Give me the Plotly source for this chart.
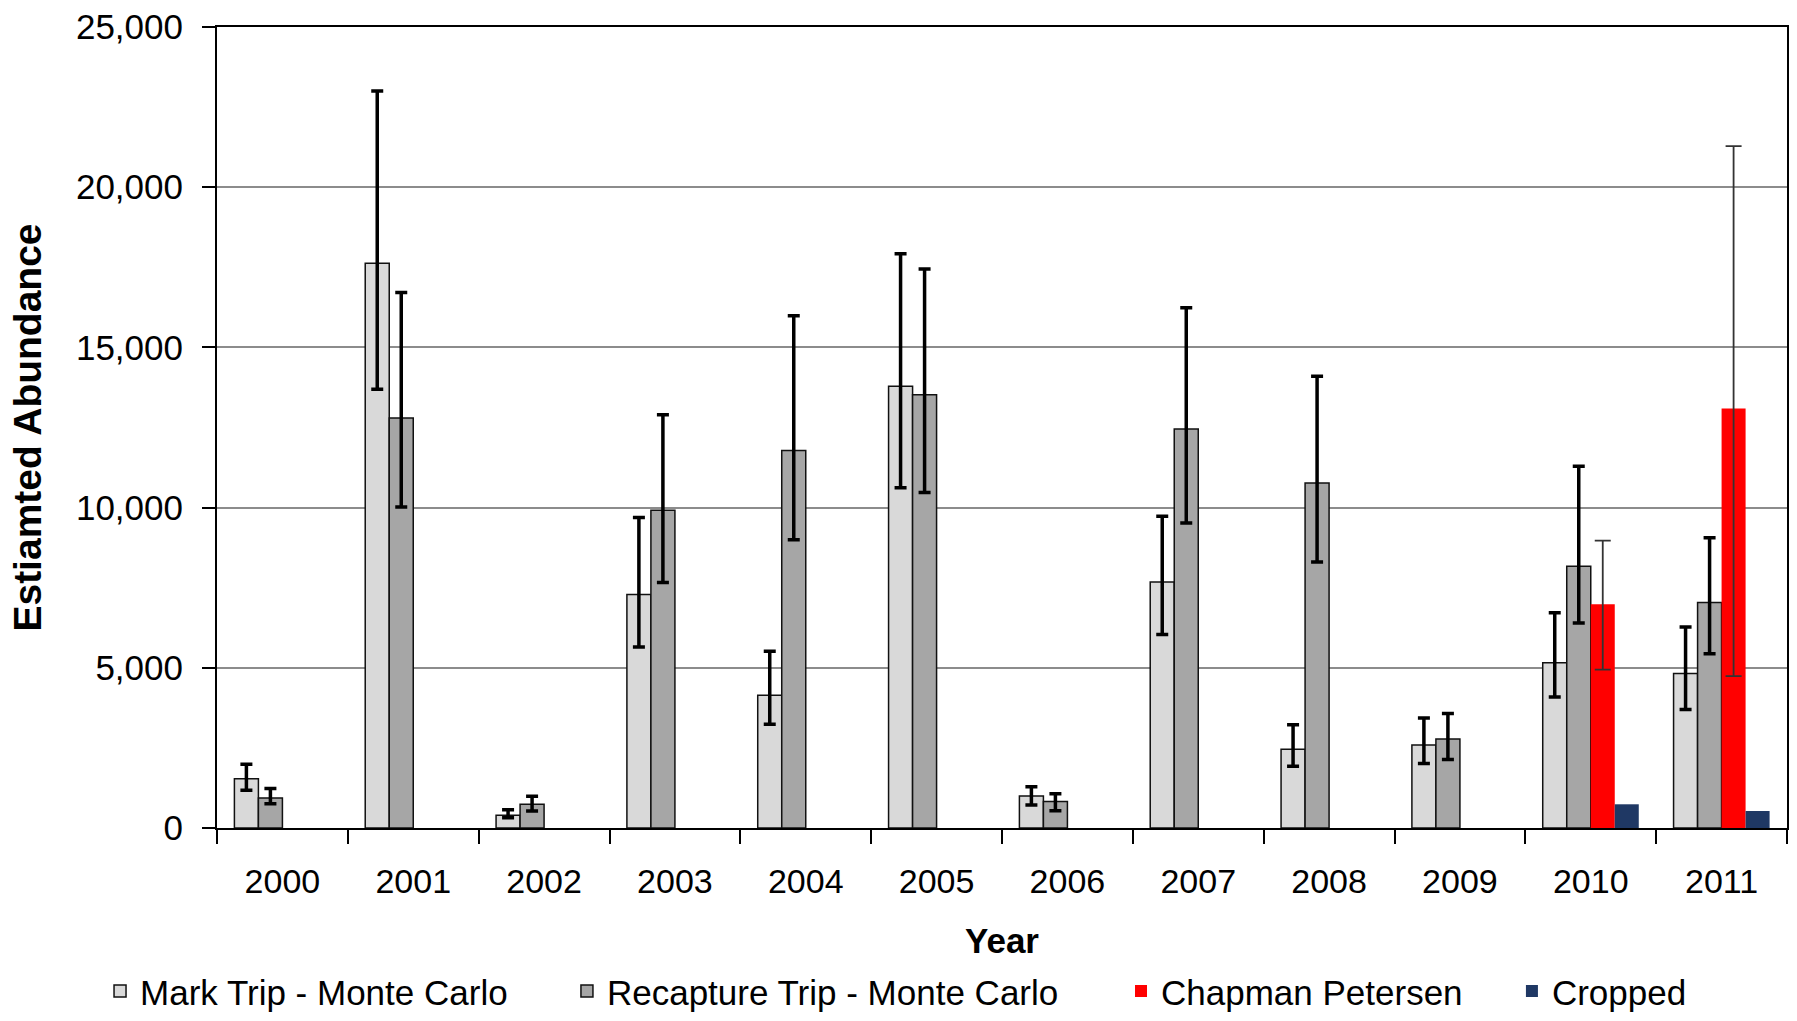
import plotly.graph_objects as go

years = ["2000", "2001", "2002", "2003", "2004", "2005", "2006", "2007", "2008", "2009", "2010", "2011"]

mark = [1540, 17630, 400, 7290, 4140, 13790, 1000, 7680, 2460, 2590, 5160, 4820]
mark_hi = [1990, 23000, 570, 9690, 5520, 17920, 1290, 9730, 3220, 3430, 6720, 6270]
mark_lo = [1180, 13690, 320, 5650, 3240, 10620, 720, 6040, 1930, 2010, 4090, 3700]

recap = [940, 12800, 740, 9920, 11780, 13520, 830, 12450, 10770, 2780, 8170, 7040]
recap_hi = [1230, 16710, 990, 12900, 15990, 17450, 1070, 16240, 14100, 3570, 11290, 9060]
recap_lo = [760, 10020, 530, 7660, 9000, 10470, 540, 9520, 8300, 2140, 6400, 5440]

chapman = [None] * 10 + [6980, 13090]
chapman_hi = [None] * 10 + [8970, 21280]
chapman_lo = [None] * 10 + [4940, 4740]

cropped = [None] * 10 + [740, 530]

FONT = "Liberation Sans, Arial, sans-serif"


def plus(v, hi):
    return [(h - x) if (x is not None and h is not None) else 0 for x, h in zip(v, hi)]


def minus(v, lo):
    return [(x - l) if (x is not None and l is not None) else 0 for x, l in zip(v, lo)]


fig = go.Figure()

fig.add_trace(go.Bar(
    name="Mark Trip - Monte Carlo", x=years, y=mark, showlegend=True,
    marker=dict(color="#D9D9D9", line=dict(color="#111111", width=1.5)),
    error_y=dict(type="data", symmetric=False, array=plus(mark, mark_hi),
                 arrayminus=minus(mark, mark_lo), color="#000000", thickness=3.5, width=6),
    legend="legend",
))
fig.add_trace(go.Bar(
    name="Recapture Trip - Monte Carlo", x=years, y=recap, showlegend=True,
    marker=dict(color="#A6A6A6", line=dict(color="#111111", width=1.5)),
    error_y=dict(type="data", symmetric=False, array=plus(recap, recap_hi),
                 arrayminus=minus(recap, recap_lo), color="#000000", thickness=3.5, width=6),
    legend="legend2",
))
fig.add_trace(go.Bar(
    name="Chapman Petersen", x=years, y=chapman, showlegend=True,
    marker=dict(color="#FF0000", line=dict(width=0)),
    error_y=dict(type="data", symmetric=False, array=plus(chapman, chapman_hi),
                 arrayminus=minus(chapman, chapman_lo), color="#333333", thickness=1.8, width=8),
    legend="legend3",
))
fig.add_trace(go.Bar(
    name="Cropped", x=years, y=cropped, showlegend=True,
    marker=dict(color="#1F3864", line=dict(width=0)),
    legend="legend4",
))

leg_common = dict(orientation="h", yanchor="bottom", y=-0.2405, xanchor="left",
                  font=dict(family=FONT, size=35, color="#000000"),
                  bgcolor="rgba(0,0,0,0)", borderwidth=0, visible=True)

fig.update_layout(
    width=1797, height=1021,
    margin=dict(l=217, r=10, t=27, b=193, autoexpand=False),
    paper_bgcolor="white", plot_bgcolor="white",
    showlegend=True,
    barmode="group", bargap=0.266, bargroupgap=0,
    font=dict(family=FONT, color="#000000"),
    legend=dict(x=-0.0745, **leg_common),
    legend2=dict(x=0.2229, **leg_common),
    legend3=dict(x=0.5758, **leg_common),
    legend4=dict(x=0.8248, **leg_common),
    xaxis=dict(
        type="category", tickson="boundaries", ticks="outside", ticklen=14,
        tickwidth=2, tickcolor="#000000", showline=True, linecolor="#000000",
        linewidth=2, mirror=True, showgrid=False, ticklabelstandoff=22, automargin=False,
        tickfont=dict(family=FONT, size=34, color="#000000"),
        title=dict(text="<b>Year</b>", font=dict(family=FONT, size=35, color="#000000"), standoff=30),
    ),
    yaxis=dict(
        range=[0, 25000], dtick=5000, tickformat=",", ticks="outside", ticklen=13,
        tickwidth=2, tickcolor="#000000", showline=True, linecolor="#000000",
        linewidth=2, mirror=True, showgrid=True, gridcolor="#8C8C8C", gridwidth=1.5,
        zeroline=False, ticklabelstandoff=12, automargin=False,
        tickfont=dict(family=FONT, size=35, color="#000000"),
        title=dict(text="<b>Estiamted Abundance</b>", font=dict(family=FONT, size=39, color="#000000"), standoff=22),
    ),
)

fig.write_html("out.html")
